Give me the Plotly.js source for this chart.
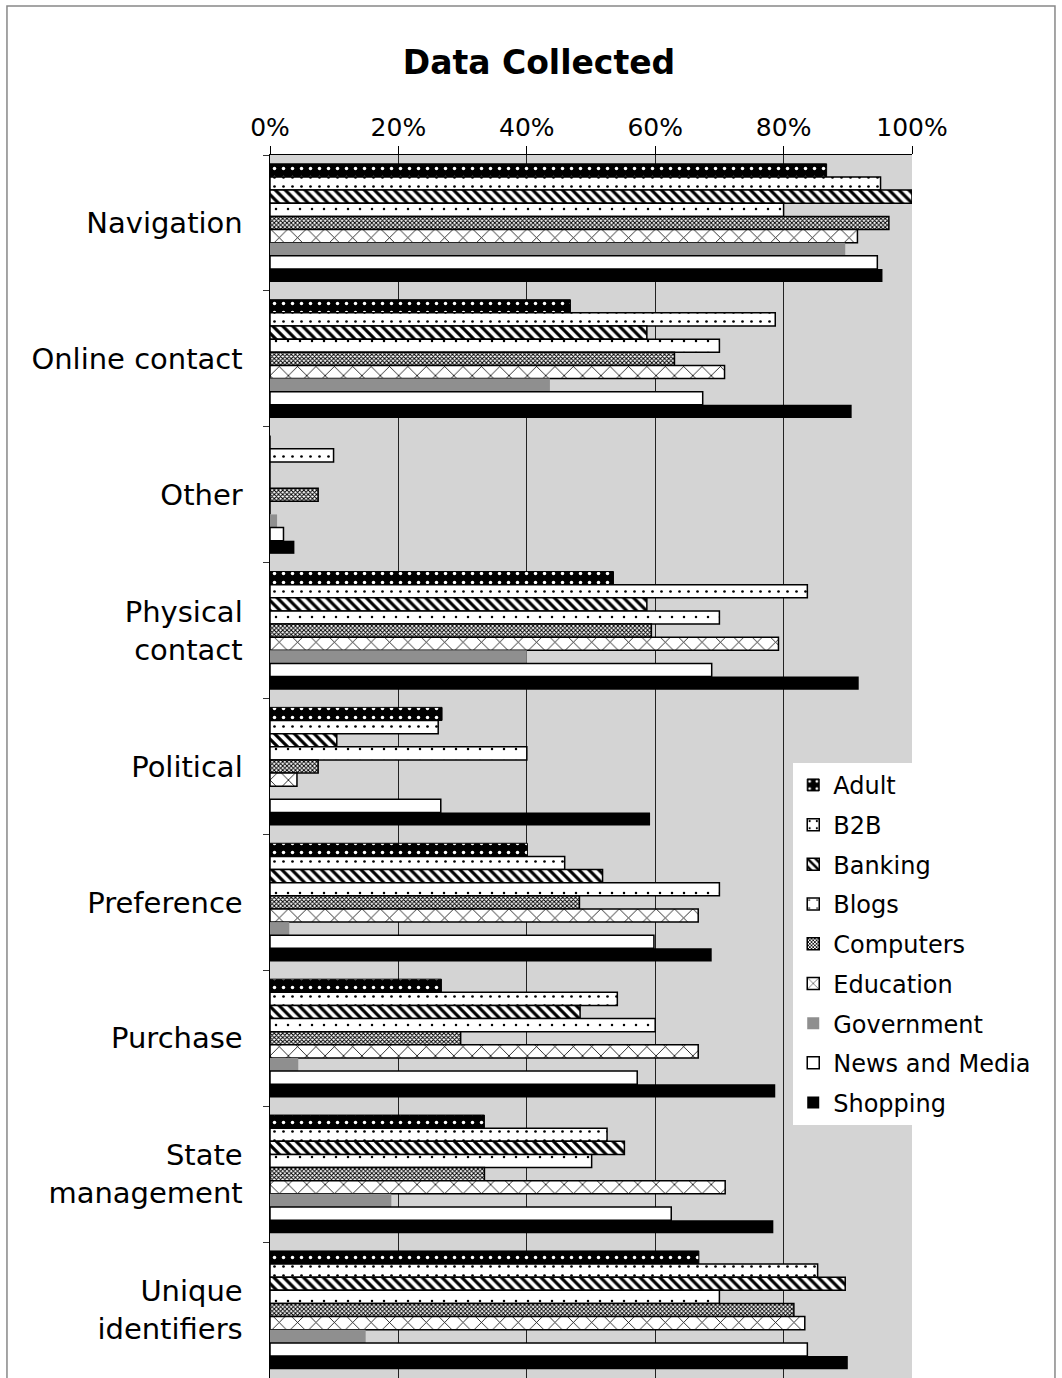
<!DOCTYPE html>
<html>
<head>
<meta charset="utf-8">
<script src="https://cdn.plot.ly/plotly-3.0.1.min.js"></script>
<style>html,body{margin:0;padding:0;background:#fff;}#chart{width:1062px;height:1378px;}</style>
</head>
<body>
<div id="chart"></div>
<script>
// Categories (top to bottom)
const categories = ["Navigation", "Online contact", "Other", "Physical<br>contact", "Political",
  "Preference", "Purchase", "State<br>management", "Unique<br>identifiers"];

// Series values (fraction of sites), in category order
const adult      = [0.867, 0.468, 0.000, 0.535, 0.268, 0.401, 0.267, 0.334, 0.668];
const b2b        = [0.951, 0.787, 0.099, 0.837, 0.262, 0.459, 0.541, 0.525, 0.853];
const banking    = [1.000, 0.587, 0.000, 0.587, 0.104, 0.518, 0.483, 0.552, 0.896];
const blogs      = [0.800, 0.700, 0.000, 0.700, 0.400, 0.700, 0.600, 0.501, 0.700];
const computers  = [0.964, 0.630, 0.075, 0.594, 0.075, 0.482, 0.297, 0.334, 0.816];
const education  = [0.915, 0.708, 0.000, 0.792, 0.042, 0.667, 0.667, 0.709, 0.833];
const government = [0.896, 0.436, 0.011, 0.400, 0.000, 0.030, 0.044, 0.189, 0.149];
const news       = [0.946, 0.674, 0.021, 0.688, 0.266, 0.598, 0.572, 0.625, 0.837];
const shopping   = [0.954, 0.906, 0.038, 0.917, 0.592, 0.688, 0.787, 0.784, 0.900];

const seriesNames = ["Adult", "B2B", "Banking", "Blogs", "Computers", "Education",
  "Government", "News and Media", "Shopping"];
const seriesValues = [adult, b2b, banking, blogs, computers, education, government, news, shopping];

const xTickVals = [0, 0.2, 0.4, 0.6, 0.8, 1.0];
const xTickText = ["0%", "20%", "40%", "60%", "80%", "100%"];

// Styles per series
const styles = [
  {color: "#000", pattern: {shape: ".", fgcolor: "#fff", bgcolor: "#000", size: 9, solidity: 0.12, fillmode: "replace"}, lw: 1},
  {color: "#fff", pattern: {shape: ".", fgcolor: "#000", bgcolor: "#fff", size: 9, solidity: 0.07, fillmode: "replace"}, lw: 1.5},
  {color: "#fff", pattern: {shape: "\\", fgcolor: "#000", bgcolor: "#fff", size: 7, solidity: 0.45, fillmode: "replace"}, lw: 1.5},
  {color: "#fff", pattern: {shape: ".", fgcolor: "#000", bgcolor: "#fff", size: 12, solidity: 0.035, fillmode: "replace"}, lw: 1.5},
  {color: "#777", pattern: {shape: "x", fgcolor: "#000", bgcolor: "#fff", size: 3, solidity: 0.55, fillmode: "replace"}, lw: 1.5},
  {color: "#fff", pattern: {shape: "x", fgcolor: "#000", bgcolor: "#fff", size: 13, solidity: 0.12, fillmode: "replace"}, lw: 1.5},
  {color: "#8f8f8f", pattern: {shape: ""}, lw: 0},
  {color: "#fff", pattern: {shape: ""}, lw: 1.5},
  {color: "#000", pattern: {shape: ""}, lw: 0}
];

const traces = seriesNames.map((name, i) => ({
  type: "bar",
  orientation: "h",
  name: name,
  legendgroup: "g" + i,
  x: seriesValues[i],
  y: categories,
  marker: {
    color: styles[i].color,
    pattern: styles[i].pattern,
    line: {color: "#000", width: styles[i].lw}
  },
  hoverinfo: "x+name"
}));

const layout = {
  width: 1062,
  height: 1378,
  paper_bgcolor: "#ffffff",
  plot_bgcolor: "#d4d4d4",
  font: {family: "DejaVu Sans, Verdana, sans-serif", color: "#000"},
  margin: {l: 270, r: 150, t: 155, b: 0, pad: 0},
  title: {
    text: "<b>Data Collected</b>",
    font: {size: 33, family: "DejaVu Sans, Verdana, sans-serif", color: "#000"},
    x: 0.5075, xref: "container", xanchor: "center",
    y: 0.955, yref: "container", yanchor: "middle"
  },
  barmode: "group",
  bargap: 0.13,
  bargroupgap: 0,
  showlegend: true,
  legend: {
    x: 0.815, xanchor: "left", y: 0.503, yanchor: "top",
    bgcolor: "#ffffff",
    borderwidth: 0,
    font: {size: 24, family: "DejaVu Sans, Verdana, sans-serif"},
    traceorder: "grouped",
    tracegroupgap: 5.5,
    itemwidth: 30
  },
  xaxis: {
    side: "top",
    range: [0, 1],
    tickvals: xTickVals,
    ticktext: xTickText,
    tickfont: {size: 25},
    ticks: "outside",
    ticklen: 8,
    tickcolor: "#000",
    showgrid: true,
    gridcolor: "#222",
    gridwidth: 1,
    showline: true,
    linecolor: "#000",
    linewidth: 1.5,
    zeroline: false,
    fixedrange: true
  },
  yaxis: {
    type: "category",
    autorange: "reversed",
    tickfont: {size: 29},
    ticks: "outside",
    tickson: "boundaries",
    ticklen: 6,
    tickcolor: "#333",
    ticklabelstandoff: 20,
    showline: true,
    linecolor: "#000",
    linewidth: 1.5,
    showgrid: false,
    zeroline: false,
    fixedrange: true
  },
  shapes: [{
    type: "rect", xref: "paper", yref: "paper",
    x0: -0.4097, x1: 1.2227, y0: -0.02, y1: 1.1218,
    line: {color: "#888", width: 1.5}, fillcolor: "rgba(0,0,0,0)", layer: "below"
  }]
};

Plotly.newPlot("chart", traces, layout, {displayModeBar: false, staticPlot: true});
</script>
</body>
</html>
